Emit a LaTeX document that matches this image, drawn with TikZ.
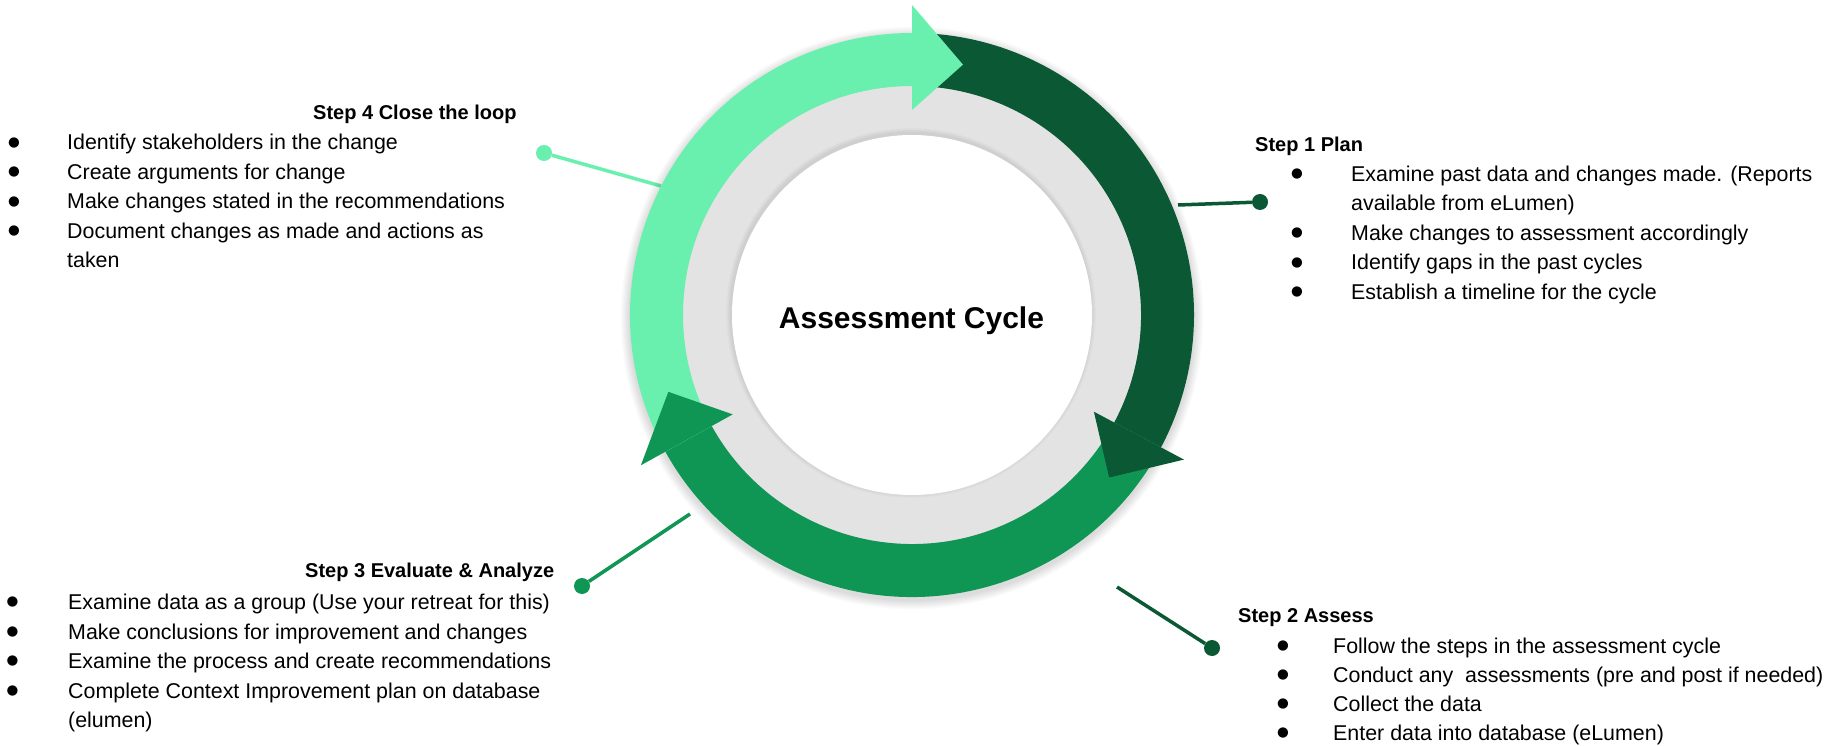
\documentclass[tikz,border=0pt]{standalone}
\usepackage{fontspec}
\setmainfont{Liberation Sans}
\newfontfamily\symfont{DejaVu Sans}
\definecolor{cLight}{HTML}{69F0AE}
\definecolor{cMid}{HTML}{0F9654}
\definecolor{cDark}{HTML}{0A5834}
\definecolor{cGrey}{HTML}{E3E3E3}
\begin{document}
\begin{tikzpicture}[x=1pt,y=1pt,
  body/.style={font=\fontsize{21.4}{29.5}\selectfont, anchor=base west, inner sep=0pt},
  headtxt/.style={font=\bfseries\fontsize{20}{24}\selectfont, anchor=base west, inner sep=0pt},
  bul/.style={font=\symfont\fontsize{13.5}{14}\selectfont, anchor=center, inner sep=0pt},
  dotnode/.style={circle, fill=#1, minimum size=16pt, inner sep=0pt},
  conn/.style={line width=3.5pt, draw=#1},
]
\useasboundingbox (0,0) rectangle (1835,745);
\fill[white] (0,0) rectangle (1835,745);

% ---------- connectors ----------
\node[dotnode=cLight] (d4) at (544,592) {};
\coordinate (e4) at (661,559);
\draw[conn=cLight] (d4) -- (e4);

\node[dotnode=cDark] (d1) at (1260,543) {};
\coordinate (e1) at (1178,540);
\draw[conn=cDark] (e1) -- (d1);

\node[dotnode=cDark] (d2) at (1212,97) {};
\coordinate (e2) at (1117,158);
\draw[conn=cDark] (e2) -- (d2);

\node[dotnode=cMid] (d3) at (582,159) {};
\coordinate (e3) at (690,231);
\draw[conn=cMid] (e3) -- (d3);

% ---------- ring ----------
\begin{scope}[shift={(912,430)}]
  \foreach \k in {1,...,7} {\fill[black,opacity=0.018] (0,-3) circle ({282+\k*1.3});}
  \fill[cGrey] (0,0) circle (229);
  \foreach \k in {1,...,4} {\fill[black,opacity=0.02] (-1,2) circle ({180+\k*1.2});}
  \fill[white] (0,0) circle (180);
  % bodies
  \fill[cDark] (90:282) arc[start angle=90, end angle=-28, radius=282]
     -- (-28:229) arc[start angle=-28, end angle=90, radius=229] -- cycle;
  \fill[cMid] (-28:282) arc[start angle=-28, end angle=-151, radius=282]
     -- (-151:229) arc[start angle=-151, end angle=-28, radius=229] -- cycle;
  \fill[cLight] (-151:282) arc[start angle=-151, end angle=-270, radius=282]
     -- (-270:229) arc[start angle=-270, end angle=-151, radius=229] -- cycle;
  % heads
  \fill[cLight] (90:310) -- (78.5:255.5) -- (90:205) -- cycle;
  \fill[cDark] (-28:308) -- (-39.5:255.5) -- (-28:206) -- cycle;
  \fill[cMid] (-151:310) -- (-162.5:255.5) -- (-151:205) -- cycle;
\end{scope}

\node[font=\bfseries\fontsize{30}{36}\selectfont, inner sep=0pt] (title) at (911.5,424) {Assessment Cycle};

% ---------- Step 4 ----------
\node[headtxt] (h4) at (313,625.5) {Step 4 Close the loop};
\foreach \b/\t [count=\i] in {1/Identify stakeholders in the change,1/Create arguments for change,1/Make changes stated in the recommendations,1/Document changes as made and actions as,0/taken} {
  \node[body] (s4t\i) at (67,{595-(\i-1)*29.5}) {\t};
  \ifnum\b=1 \node[bul] (s4b\i) at (14,{602-(\i-1)*29.5}) {●}; \fi
}

% ---------- Step 1 ----------
\node[headtxt] (h1) at (1255,593) {Step 1 Plan};
\foreach \b/\t [count=\i] in {1/Examine past data and changes made. (Reports,0/available from eLumen),1/Make changes to assessment accordingly,1/Identify gaps in the past cycles,1/Establish a timeline for the cycle} {
  \node[body] (s1t\i) at (1351,{563.5-(\i-1)*29.5}) {\t};
  \ifnum\b=1 \node[bul] (s1b\i) at (1297,{570.5-(\i-1)*29.5}) {●}; \fi
}

% ---------- Step 2 ----------
\node[headtxt] (h2) at (1238,123) {Step 2 Assess};
\foreach \b/\t [count=\i] in {1/Follow the steps in the assessment cycle,1/Conduct any\ \ assessments (pre and post if needed),1/Collect the data,1/Enter data into database (eLumen)} {
  \node[body] (s2t\i) at (1333,{92-(\i-1)*29}) {\t};
  \ifnum\b=1 \node[bul] (s2b\i) at (1283,{99-(\i-1)*29}) {●}; \fi
}

% ---------- Step 3 ----------
\node[headtxt] (h3) at (305,167.5) {Step 3 Evaluate \& Analyze};
\foreach \b/\t [count=\i] in {1/Examine data as a group (Use your retreat for this),1/Make conclusions for improvement and changes,1/Examine the process and create recommendations,1/Complete Context Improvement plan on database,0/(elumen)} {
  \node[body] (s3t\i) at (68,{135.5-(\i-1)*29.5}) {\t};
  \ifnum\b=1 \node[bul] (s3b\i) at (12.5,{142.5-(\i-1)*29.5}) {●}; \fi
}
\end{tikzpicture}
\end{document}
